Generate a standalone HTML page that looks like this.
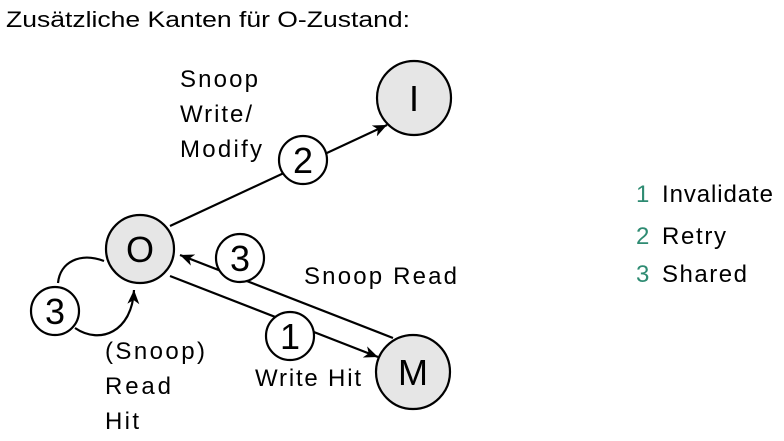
<!DOCTYPE html>
<html><head><style>body{margin:0;background:#fff;}svg{display:block;font-family:"Liberation Sans",Arial,sans-serif;}</style></head>
<body>
<svg width="784" height="441" viewBox="0 0 784 441">
<defs>
<marker id="b" markerWidth="16" markerHeight="16" refX="14" refY="8" orient="auto" markerUnits="userSpaceOnUse"><path d="M0,2 L14,8 L0,14 L4,8 Z" fill="#000"/></marker></defs>
<text x="6" y="27" font-size="22" textLength="404" lengthAdjust="spacingAndGlyphs">Zusätzliche Kanten für O-Zustand:</text>
<g stroke="#000" stroke-width="2.2" fill="none">
<line x1="170" y1="226" x2="387" y2="125" marker-end="url(#b)"/>
<line x1="170" y1="276" x2="378" y2="357" marker-end="url(#b)"/>
<line x1="393" y1="338" x2="180" y2="255" marker-end="url(#b)"/>
<path d="M104,261 C80,252 60,262 58,283"/>
<path d="M75,328 C100,345 132,332 134,290" marker-end="url(#b)"/>
</g>
<g stroke="#000" stroke-width="2.2" fill="#e6e6e6">
<circle cx="140" cy="249" r="34"/>
<circle cx="414" cy="98" r="37"/>
<circle cx="413" cy="372" r="37"/>
</g>
<g stroke="#000" stroke-width="2.2" fill="#fff">
<circle cx="303" cy="160" r="24"/>
<circle cx="240" cy="258" r="24"/>
<circle cx="290" cy="336" r="24"/>
<circle cx="55" cy="311" r="24"/>
</g>
<g font-size="36" text-anchor="middle">
<text x="140" y="262">O</text>
<text x="414" y="111">I</text>
<text x="413" y="385">M</text>
<text x="303" y="173">2</text>
<text x="240" y="271">3</text>
<text x="290" y="349">1</text>
<text x="55" y="324">3</text>
</g>
<g font-size="24" lengthAdjust="spacingAndGlyphs">
<text x="180" y="87" textLength="78">Snoop</text>
<text x="180" y="122" textLength="72">Write/</text>
<text x="180" y="157" textLength="82">Modify</text>
<text x="304" y="284" textLength="153">Snoop Read</text>
<text x="255" y="386" textLength="106">Write Hit</text>
<text x="105" y="359" textLength="100">(Snoop)</text>
<text x="105" y="394" textLength="66">Read</text>
<text x="105" y="429" textLength="34">Hit</text>
<text x="636" y="202" fill="#2e8b72">1</text><text x="662" y="202" textLength="111">Invalidate</text>
<text x="636" y="244" fill="#2e8b72">2</text><text x="662" y="244" textLength="64">Retry</text>
<text x="636" y="282" fill="#2e8b72">3</text><text x="662" y="282" textLength="85">Shared</text>
</g>
</svg>
</body></html>
